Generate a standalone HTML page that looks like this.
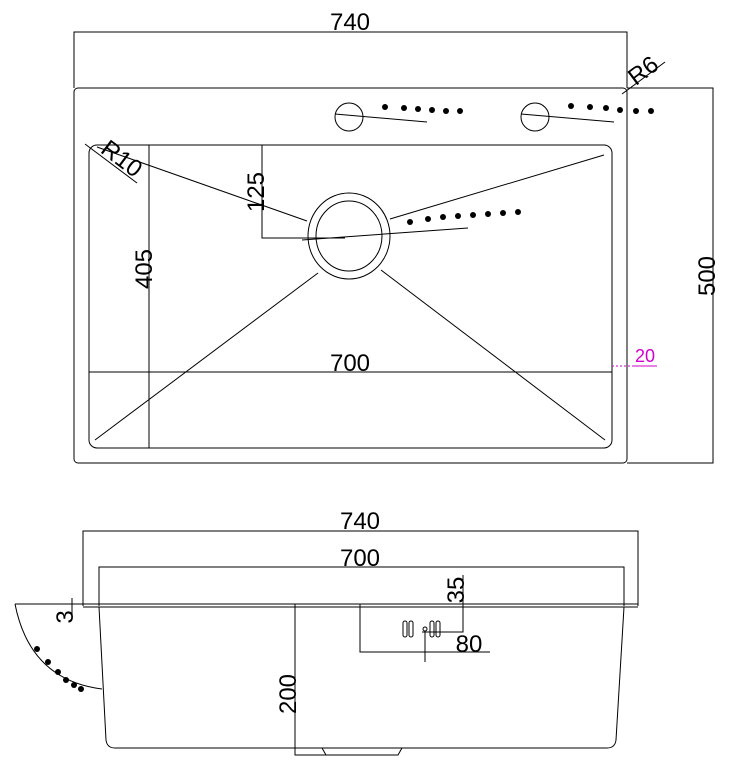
<!DOCTYPE html>
<html><head><style>body{margin:0;background:#fff}svg{display:block}</style></head>
<body>
<svg width="732" height="772" viewBox="0 0 732 772" xmlns="http://www.w3.org/2000/svg" font-family="Liberation Sans, sans-serif">
<g fill="none" stroke="#000" stroke-width="1">
<!-- top view -->
<rect x="74" y="88" width="553" height="375" rx="4"/>
<rect x="89" y="145" width="523" height="303" rx="8"/>
<polyline points="74,88 74,32 627,32 627,88"/>
<polyline points="627,88 713,88 713,463 627,463"/>
<line x1="622" y1="94" x2="665" y2="62"/>
<line x1="149" y1="145" x2="149" y2="448"/>
<polyline points="350,145 262,145 262,238 345,238"/>
<line x1="89" y1="372" x2="612" y2="372"/>
<ellipse cx="349" cy="236" rx="41" ry="43"/>
<ellipse cx="349" cy="236" rx="33" ry="35"/>
<line x1="95" y1="440" x2="318" y2="273"/>
<line x1="605" y1="440" x2="381" y2="270"/>
<line x1="97" y1="147" x2="307" y2="221"/>
<line x1="604" y1="155" x2="390" y2="219"/>
<line x1="302" y1="240" x2="468" y2="228"/>
<line x1="85" y1="144" x2="137" y2="183"/>
<circle cx="349" cy="117" r="14"/>
<circle cx="535" cy="117" r="14"/>
<line x1="335" y1="114" x2="427" y2="122"/>
<line x1="521" y1="114" x2="614" y2="122"/>
<!-- bottom view -->
<polyline points="83,606 83,531 638,531 638,606"/>
<polyline points="99,606 99,567 624,567 624,606"/>
<line x1="83" y1="604" x2="638" y2="604"/>
<line x1="83" y1="607" x2="638" y2="607"/>
<path d="M99,607 L106,740 Q107,748 115,748 L607,748 Q615,748 616,740 L624,607"/>
<polyline points="295,604 295,755 360,755"/>
<path d="M322,748 L326,755 L398,755 L402,748"/>
<polyline points="295,604 360,604 360,652 490,652"/>
<polyline points="463,575 463,632 422,632"/>
<line x1="425" y1="632" x2="425" y2="662"/>
<rect x="403" y="621" width="4" height="16" rx="2"/>
<rect x="409" y="621" width="4" height="16" rx="2"/>
<circle cx="425" cy="629" r="2"/>
<rect x="430" y="621" width="4" height="16" rx="2"/>
<rect x="436" y="621" width="4" height="16" rx="2"/>
<path d="M15,604 L83,604 M15,604 Q30,680 102,689"/>
<line x1="72" y1="598" x2="72" y2="620"/>
</g>
<g fill="#000">
<circle cx="385" cy="107" r="3"/><circle cx="404" cy="108" r="3"/><circle cx="418" cy="109" r="3"/><circle cx="432" cy="110" r="3"/><circle cx="446" cy="111" r="3"/><circle cx="460" cy="111" r="3"/>
<circle cx="571" cy="106" r="3"/><circle cx="590" cy="107" r="3"/><circle cx="606" cy="108" r="3"/><circle cx="620" cy="110" r="3"/><circle cx="636" cy="111" r="3"/><circle cx="651" cy="111" r="3"/>
<circle cx="410" cy="222" r="3"/><circle cx="428" cy="219" r="3"/><circle cx="443" cy="217" r="3"/><circle cx="458" cy="216" r="3"/><circle cx="473" cy="215" r="3"/><circle cx="488" cy="214" r="3"/><circle cx="503" cy="213" r="3"/><circle cx="518" cy="212" r="3"/>
<circle cx="37" cy="649" r="3"/><circle cx="48" cy="662" r="3"/><circle cx="58" cy="672" r="3"/><circle cx="66" cy="680" r="3"/><circle cx="74" cy="685" r="3"/><circle cx="81" cy="689" r="3"/>
</g>
<g font-size="24" fill="#000">
<text x="350" y="30" text-anchor="middle">740</text>
<text x="350" y="371" text-anchor="middle">700</text>
<text transform="translate(152,269) rotate(-90)" text-anchor="middle">405</text>
<text transform="translate(264,192) rotate(-90)" text-anchor="middle">125</text>
<text transform="translate(715,276) rotate(-90)" text-anchor="middle">500</text>
<text transform="translate(648,77) rotate(-37)" text-anchor="middle">R6</text>
<text transform="translate(117,165) rotate(37)" text-anchor="middle">R10</text>
<text x="360" y="529" text-anchor="middle">740</text>
<text x="360" y="566" text-anchor="middle">700</text>
<text transform="translate(464,590) rotate(-90)" text-anchor="middle">35</text>
<text x="469" y="652" text-anchor="middle">80</text>
<text transform="translate(296,694) rotate(-90)" text-anchor="middle">200</text>
<text transform="translate(73,617) rotate(-90)" text-anchor="middle">3</text>
</g>
<text x="645" y="362" font-size="18" text-anchor="middle" fill="#d000d0">20</text>
<line x1="632" y1="366" x2="657" y2="366" stroke="#d000d0"/>
<line x1="612" y1="366" x2="632" y2="366" stroke="#d000d0" stroke-dasharray="2,2"/>
</svg>
</body></html>
